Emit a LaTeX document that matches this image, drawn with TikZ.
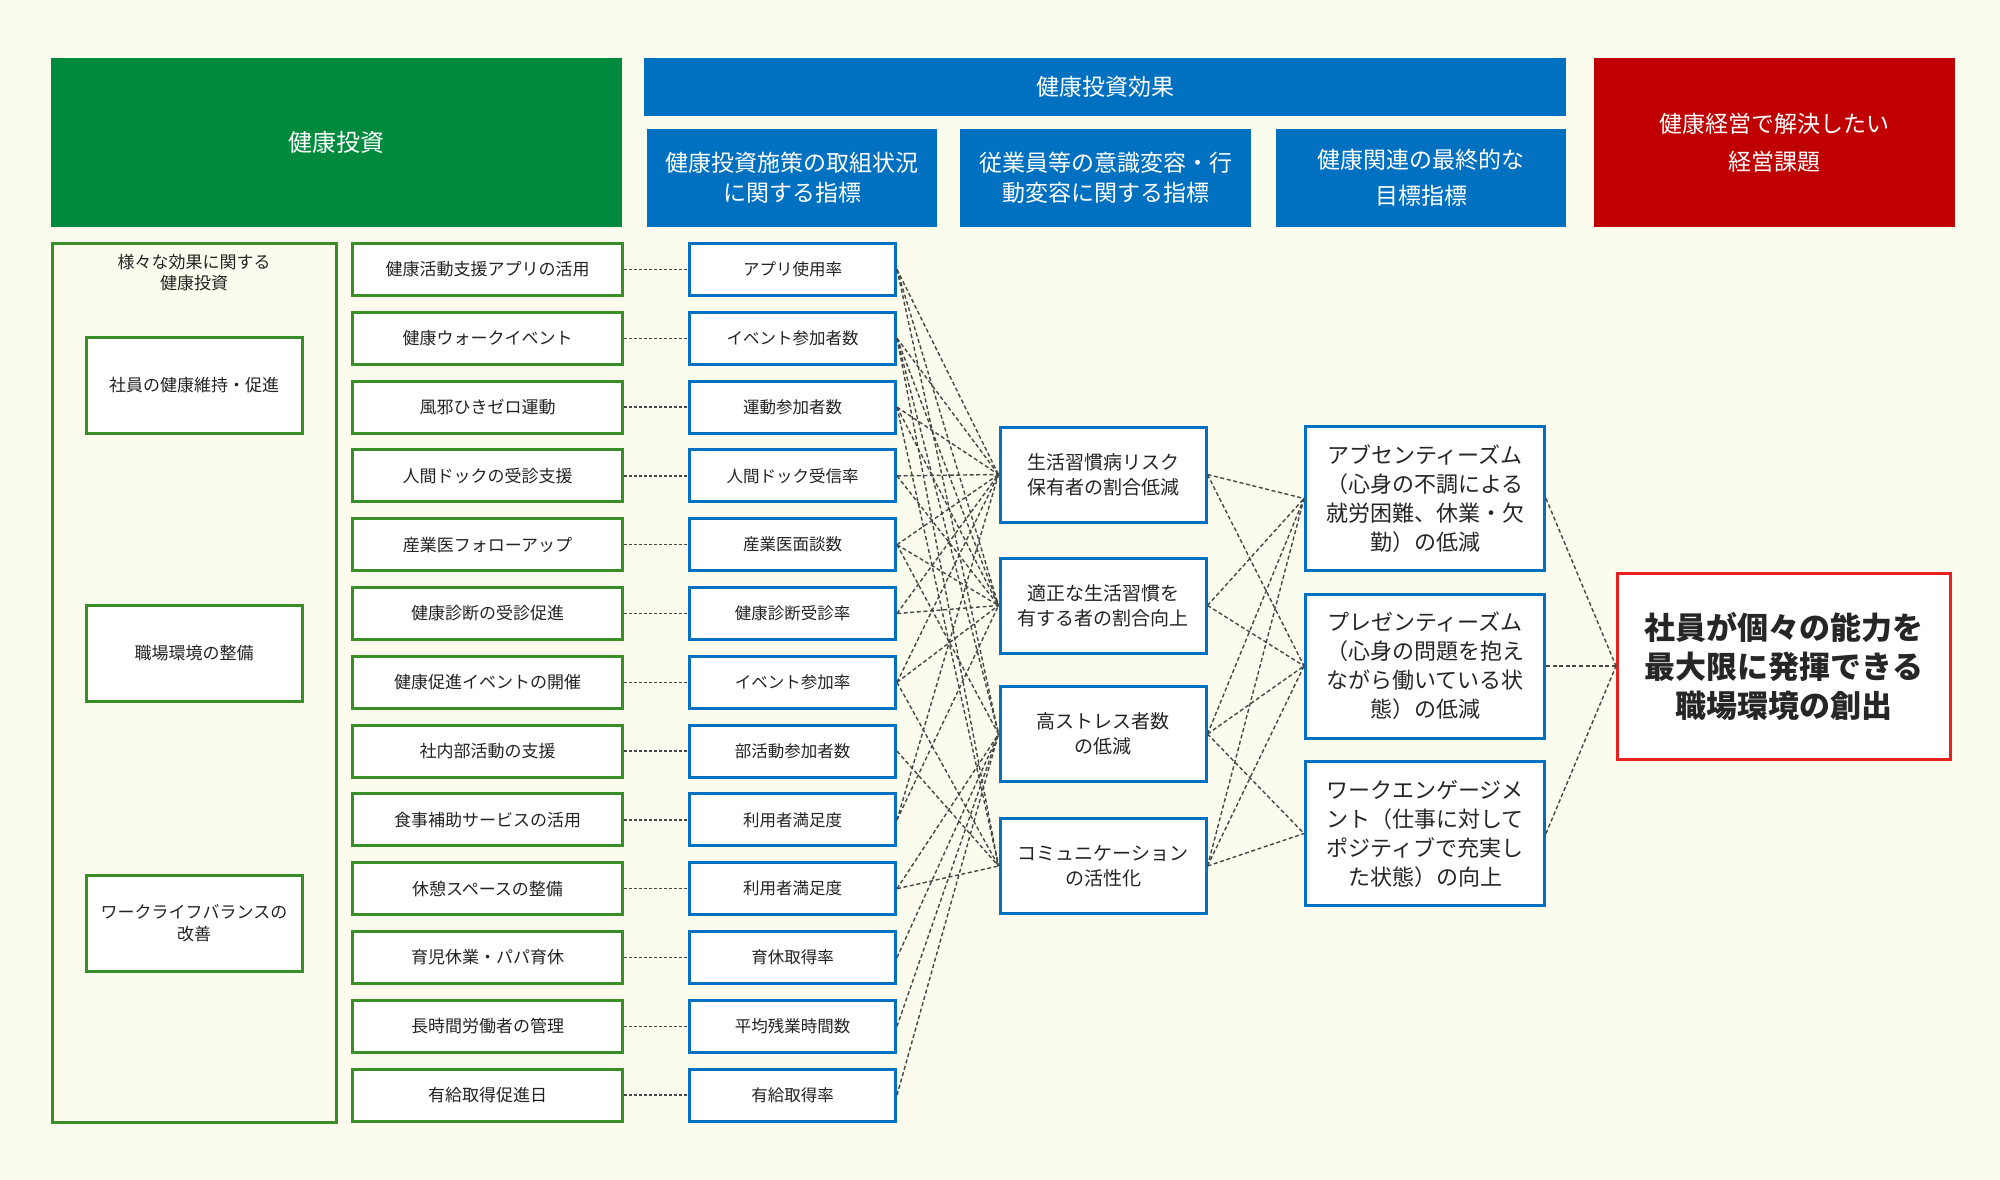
\documentclass[tikz,border=0pt]{standalone}
\usepackage{fontspec}
\setmainfont{Noto Sans CJK JP}
\definecolor{bg}{RGB}{252,252,238}
\definecolor{hgreen}{RGB}{0,138,62}
\definecolor{bgreen}{RGB}{58,142,40}
\definecolor{hblue}{RGB}{0,112,192}
\definecolor{hred}{RGB}{192,0,0}
\definecolor{fred}{RGB}{232,32,32}
\definecolor{txt}{RGB}{35,35,35}
\definecolor{lnk}{RGB}{70,70,70}
\newcommand{\fsz}[2]{\fontsize{#1}{#2}\selectfont}
\begin{document}
\begin{tikzpicture}[x=1pt,y=-1pt,
  hdr/.style={text=white, align=center, inner sep=0pt},
  gbox/.style={draw=bgreen, line width=3pt, fill=white, align=center, text=txt, inner sep=0pt},
  bbox/.style={draw=hblue, line width=3pt, fill=white, align=center, text=txt, inner sep=0pt},
  dotlink/.style={draw=lnk, line width=1.5pt, dash pattern=on 3pt off 2pt},
  dashlink/.style={draw=lnk, line width=1.4pt, dash pattern=on 4pt off 2.6pt}]
\fill[bg] (0,0) rectangle (2000,1180);
\useasboundingbox (0,0) rectangle (2000,1180);

% headers
\node[hdr, fill=hgreen, minimum width=571pt, minimum height=169pt, font=\fsz{24}{30}] (hg) at (336.5,142.5) {健康投資};
\node[hdr, fill=hblue, minimum width=922pt, minimum height=58pt, font=\fsz{23}{30}] (hb) at (1105,87) {健康投資効果};
\node[hdr, fill=hblue, minimum width=290pt, minimum height=98pt, font=\fsz{23}{30}] (s1) at (792,178) {健康投資施策の取組状況\\に関する指標};
\node[hdr, fill=hblue, minimum width=291pt, minimum height=98pt, font=\fsz{23}{30}] (s2) at (1105.5,178) {従業員等の意識変容・行\\動変容に関する指標};
\node[hdr, fill=hblue, minimum width=290pt, minimum height=98pt, font=\fsz{23}{36}] (s3) at (1421,178) {健康関連の最終的な\\目標指標};
\node[hdr, fill=hred, minimum width=361pt, minimum height=169pt, font=\fsz{23}{38}] (hr) at (1774.5,142.5) {健康経営で解決したい\\経営課題};

% left column
\node[draw=bgreen, line width=3pt, minimum width=284pt, minimum height=879pt, inner sep=0pt] (L) at (194,682.5) {};
\node[align=center, text=txt, font=\fsz{17}{21}, inner sep=0pt] (Lt) at (194,272.5) {様々な効果に関する\\健康投資};
\node[gbox, minimum width=216pt, minimum height=96pt, font=\fsz{17}{22}] (g1) at (194,385) {社員の健康維持・促進};
\node[gbox, minimum width=216pt, minimum height=96pt, font=\fsz{17}{22}] (g2) at (194,653.5) {職場環境の整備};
\node[gbox, minimum width=216pt, minimum height=96pt, font=\fsz{17}{22}] (g3) at (194,923.5) {ワークライフバランスの\\改善};

% column 2 and 3
\foreach \t [count=\i] in {健康活動支援アプリの活用,健康ウォークイベント,風邪ひきゼロ運動,人間ドックの受診支援,産業医フォローアップ,健康診断の受診促進,健康促進イベントの開催,社内部活動の支援,食事補助サービスの活用,休憩スペースの整備,育児休業・パパ育休,長時間労働者の管理,有給取得促進日}
  \node[gbox, minimum width=270pt, minimum height=52pt, font=\fsz{17}{20}] (a\i) at (487.5,{269.5+(\i-1)*68.8}) {\t};
\foreach \t [count=\i] in {アプリ使用率,イベント参加者数,運動参加者数,人間ドック受信率,産業医面談数,健康診断受診率,イベント参加率,部活動参加者数,利用者満足度,利用者満足度,育休取得率,平均残業時間数,有給取得率}
  \node[bbox, minimum width=206pt, minimum height=52pt, font=\fsz{16.5}{20}] (b\i) at (792.5,{269.5+(\i-1)*68.8}) {\t};

% column 4
\node[bbox, minimum width=206pt, minimum height=95pt, font=\fsz{19}{25}] (m1) at (1103,474.5) {生活習慣病リスク\\保有者の割合低減};
\node[bbox, minimum width=206pt, minimum height=95pt, font=\fsz{19}{25}] (m2) at (1103,605.5) {適正な生活習慣を\\有する者の割合向上};
\node[bbox, minimum width=206pt, minimum height=95pt, font=\fsz{19}{25}] (m3) at (1103,734) {高ストレス者数\\の低減};
\node[bbox, minimum width=206pt, minimum height=95pt, font=\fsz{19}{25}] (m4) at (1103,866) {コミュニケーション\\の活性化};

% column 5
\node[bbox, minimum width=239pt, minimum height=144pt, font=\fsz{22}{29}, text=black!85] (c1) at (1425,498.5) {アブセンティーズム\\（心身の不調による\\就労困難、休業・欠\\勤）の低減};
\node[bbox, minimum width=239pt, minimum height=144pt, font=\fsz{22}{29}, text=black!85] (c2) at (1425,666) {プレゼンティーズム\\（心身の問題を抱え\\ながら働いている状\\態）の低減};
\node[bbox, minimum width=239pt, minimum height=144pt, font=\fsz{22}{29}, text=black!85] (c3) at (1425,833.5) {ワークエンゲージメ\\ント（仕事に対して\\ポジティブで充実し\\た状態）の向上};

% final
\node[draw=fred, line width=3pt, fill=white, minimum width=333pt, minimum height=186pt, align=center, inner sep=0pt, font=\bfseries\fsz{31}{39}, text=black!85] (fin) at (1784,666) {社員が個々の能力を\\最大限に発揮できる\\職場環境の創出};

% links col2 -> col3
\foreach \i in {1,...,13} \draw[dotlink] (a\i.east) -- (b\i.west);

% links col3 -> col4
\foreach \r/\m in {1/1,1/2,1/3,2/1,2/2,2/3,2/4,3/1,3/2,3/4,4/1,4/2,5/1,5/2,5/3,6/1,6/2,7/1,7/2,7/4,8/4,9/1,9/2,10/3,10/4,11/3,12/3,13/3}
  \draw[dashlink] (b\r.east) -- (m\m.west);

% links col4 -> col5
\foreach \m/\c in {1/1,1/2,2/1,2/2,3/1,3/2,3/3,4/1,4/2,4/3}
  \draw[dashlink] (m\m.east) -- (c\c.west);

% links col5 -> final
\foreach \c in {1,2,3} \draw[dashlink] (c\c.east) -- (fin.west);
\end{tikzpicture}
\end{document}
